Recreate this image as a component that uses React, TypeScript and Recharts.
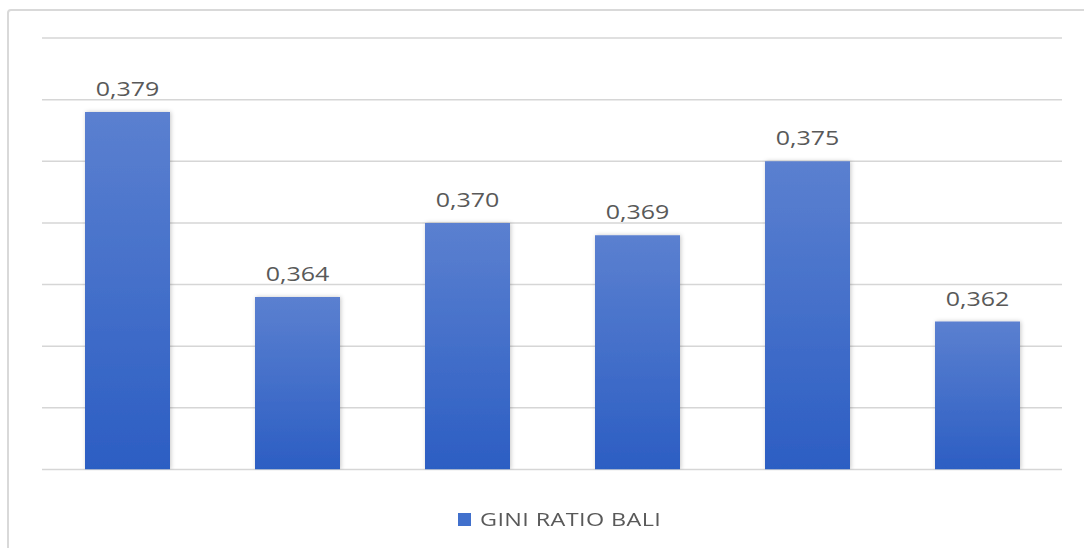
import { Bar, BarChart, CartesianGrid, LabelList, Legend, XAxis, YAxis } from 'recharts';

const years = ['2018', '2019', '2020', '2021', '2022', '2023'];
const giniValues = [0.379, 0.364, 0.37, 0.369, 0.375, 0.362];
const yTicks = [0.35, 0.355, 0.36, 0.365, 0.37, 0.375, 0.38, 0.385];
const seriesName = 'GINI RATIO BALI';

const data = years.map((year, i) => ({ year, gini: giniValues[i] }));

const FONT = '"Open Sans", sans-serif';
const TEXT = '#595959';

const formatValue = (v: number) => v.toFixed(3).replace('.', ',');

// value above each bar, glyphs widened a bit like the office-style chart font
const ValueLabel = (props: any) => {
  const { x, y, width, value } = props;
  return (
    <text
      transform={`translate(${x + width / 2}, ${y - 16}) scale(1.25, 1)`}
      textAnchor="middle"
      fill={TEXT}
      fontSize={20}
      fontFamily={FONT}
    >
      {formatValue(value)}
    </text>
  );
};

const LegendContent = () => (
  <div style={{ display: 'flex', alignItems: 'center', fontFamily: FONT }}>
    <span style={{ width: 13, height: 13, background: '#4170cc', marginRight: 9, display: 'inline-block' }} />
    <span
      style={{
        fontSize: 18,
        lineHeight: '24.5px',
        letterSpacing: 0.3,
        color: TEXT,
        display: 'inline-block',
        whiteSpace: 'nowrap',
        transform: 'scaleX(1.3)',
        transformOrigin: 'left center',
      }}
    >
      {seriesName}
    </span>
  </div>
);

export default function App() {
  return (
    <div style={{ position: 'absolute', left: 0, top: 0, width: 1084, height: 548, overflow: 'hidden', background: '#fff' }}>
      <div
        style={{
          position: 'absolute',
          left: 7,
          top: 9,
          width: 1200,
          height: 700,
          border: '2px solid #d9d9d9',
          borderRadius: 4,
        }}
      />
      <div style={{ position: 'absolute', left: 0, top: 0 }}>
        <BarChart width={1084} height={548} data={data} margin={{ top: 38, right: 22, bottom: 54, left: 42 }} barSize={85}>
          <defs>
            <linearGradient id="barFill" x1="0" y1="0" x2="0" y2="1">
              <stop offset="0%" stopColor="#5b80d0" />
              <stop offset="100%" stopColor="#2c5ec3" />
            </linearGradient>
            <filter id="barShadow" x="-20%" y="-5%" width="140%" height="110%">
              <feDropShadow dx="1" dy="0" stdDeviation="2" floodColor="#000" floodOpacity="0.22" />
            </filter>
          </defs>
          <CartesianGrid vertical={false} stroke="#d6d6d6" strokeWidth={1.5} />
          <XAxis dataKey="year" hide />
          <YAxis hide domain={[0.35, 0.385]} ticks={yTicks} allowDataOverflow />
          <Legend
            content={<LegendContent />}
            wrapperStyle={{ left: 458, top: 507, width: 'auto' }}
          />
          <Bar dataKey="gini" name={seriesName} fill="url(#barFill)" filter="url(#barShadow)" isAnimationActive={false}>
            <LabelList dataKey="gini" content={<ValueLabel />} />
          </Bar>
        </BarChart>
      </div>
    </div>
  );
}
